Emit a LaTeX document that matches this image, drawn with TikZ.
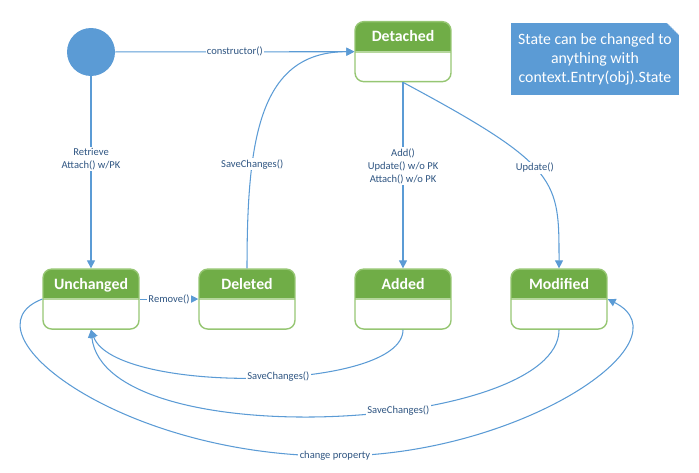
\documentclass[tikz,border=0pt]{standalone}
\usepackage{fontspec}
\setmainfont{Carlito}
\usepackage{tikz}
\usetikzlibrary{arrows.meta,positioning,calc}
\definecolor{linkblue}{RGB}{91,155,213}
\definecolor{labelblue}{RGB}{47,85,130}
\definecolor{stategreen}{RGB}{112,173,71}
\definecolor{stateline}{RGB}{150,198,115}
\definecolor{notefold}{RGB}{190,215,240}
\tikzset{
  statebox/.style={
    draw=stateline,line width=0.8pt,rounded corners=5pt,
    minimum width=19.2mm,inner sep=0pt,text height=4mm,text depth=8mm,
    text=white,font=\bfseries\fontsize{9}{10}\selectfont,
    path picture={
      \fill[stategreen,sharp corners] (path picture bounding box.north west)
        rectangle (path picture bounding box.east);
      \draw[stateline!70,line width=1pt,sharp corners] (path picture bounding box.west)
        -- (path picture bounding box.east);
    }
  },
  startdot/.style={circle,fill=linkblue,minimum size=9.6mm,inner sep=0pt},
  notebox/.style={
    fill=linkblue,minimum width=33.6mm,minimum height=14.4mm,inner sep=0pt,
    align=center,text=white,font=\fontsize{9}{10.8}\selectfont,
    path picture={
      \fill[white] ([xshift=-2.4mm]path picture bounding box.north east)
        -- (path picture bounding box.north east)
        -- ([yshift=-2.4mm]path picture bounding box.north east) -- cycle;
      \draw[notefold,densely dotted,line width=0.5pt]
        ([xshift=-2.4mm]path picture bounding box.north east)
        -- ([yshift=-2.4mm]path picture bounding box.north east);
    }
  },
  transarrow/.style={-{Triangle[length=4.5pt,width=4.5pt]},draw=linkblue,line width=0.6pt},
  translabel/.style={fill=white,inner sep=0.8pt,align=center,text=labelblue,
    font=\fontsize{6}{7.4}\selectfont}
}
\begin{document}
\begin{tikzpicture}[node distance=11.72mm]
  \useasboundingbox (0,0) rectangle (13.98,-9.44);
  \node[startdot] (init) at (1.82,-1.04) {};
  \node[statebox,below=38.4mm of init] (unchanged) {Unchanged};
  \node[statebox,right=of unchanged] (deleted) {Deleted};
  \node[statebox,right=of deleted] (added) {Added};
  \node[statebox,right=of added] (modified) {Modified};
  \node[statebox,above=37.2mm of added] (detached) {Detached};
  \node[notebox] (note) at (11.9,-1.18) {State can be changed to\\anything with\\context.Entry(obj).State};
  \draw[transarrow] (init) -- node[translabel]{constructor()} (detached);
  \draw[transarrow] (init) -- node[translabel,pos=0.43]{Retrieve\\Attach() w/PK} (unchanged);
  \draw[transarrow] (deleted.north) .. controls +(0,2.6) and +(-1.9,0) ..
    node[translabel,pos=0.3]{SaveChanges()} (detached.west);
  \draw[transarrow] (detached) -- node[translabel,pos=0.45]{Add()\\Update() w/o PK\\Attach() w/o PK} (added);
  \draw[transarrow] (detached.south) .. controls +(3.14,-1.68) and +(0,1.76) ..
    node[translabel,pos=0.46]{Update()} (modified.north);
  \draw[transarrow] (unchanged) -- node[translabel]{Remove()} (deleted);
  \draw[transarrow] (added.south) .. controls +(0,-1.24) and +(0.48,-1.3) ..
    node[translabel,pos=0.45]{SaveChanges()} (unchanged.south);
  \draw[transarrow] (modified.south) .. controls +(0,-2.04) and +(0.28,-2.54) ..
    node[translabel,pos=0.4]{SaveChanges()} (unchanged.south);
  \draw[transarrow] (unchanged.west) .. controls +(-1.66,-0.64) and +(-4.3,0) ..
    ($(unchanged.west)!0.5!(modified.east)+(0.2,-3.14)$) node[translabel]{change property}
    .. controls +(3.7,0) and +(1.66,-0.84) .. (modified.east);
\end{tikzpicture}
\end{document}
